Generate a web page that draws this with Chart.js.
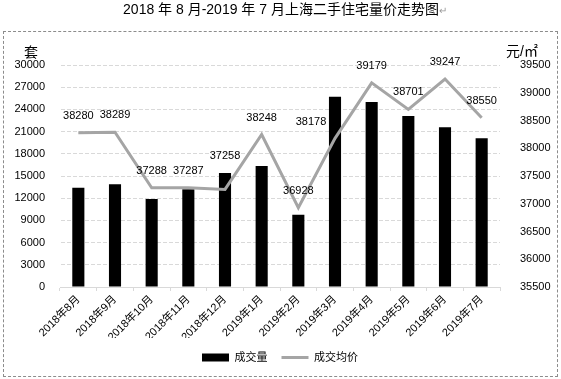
<!DOCTYPE html>
<html>
<head>
<meta charset="utf-8">
<script src="https://cdn.jsdelivr.net/npm/chart.js@4/dist/chart.umd.min.js"></script>
<style>
  html, body { margin: 0; padding: 0; background: #fff; }
  #wrap { position: relative; width: 561px; height: 379px; }
  #frame { position: absolute; left: 3px; top: 31px; width: 553px; height: 344px; border: 1px dashed #8c8c8c; pointer-events: none; }
  canvas { position: absolute; left: 0; top: 0; }
</style>
</head>
<body>
<div id="wrap">
  <div id="frame"></div>
  <canvas id="c" width="561" height="379"></canvas>
</div>
<script>
const titleText = "2018 年 8 月-2019 年 7 月上海二手住宅量价走势图";
const categories = ["2018年8月","2018年9月","2018年10月","2018年11月","2018年12月","2019年1月","2019年2月","2019年3月","2019年4月","2019年5月","2019年6月","2019年7月"];
const volume = [13400, 13900, 11900, 13200, 15400, 16350, 9750, 25700, 25000, 23100, 21600, 20100];
const avgPrice = [38280, 38289, 37288, 37287, 37258, 38248, 36928, 38178, 39179, 38701, 39247, 38550];
const volumeLabel = "成交量";
const priceLabel = "成交均价";
const leftUnit = "套";
const rightUnit = "元/㎡";

const CJK = '"Liberation Sans", "Noto Sans CJK SC", sans-serif';

const extras = {
  id: 'extras',
  afterDatasetsDraw(chart) {
    const ctx = chart.ctx;
    const meta = chart.getDatasetMeta(1);
    ctx.save();
    ctx.font = '11px ' + CJK;
    ctx.fillStyle = '#000';
    ctx.textAlign = 'center';
    ctx.textBaseline = 'middle';
    meta.data.forEach((pt, i) => {
      let dx = 0, dy = -17;
      if (i === 4) { dy = -33; }
      if (i === 7) { dx = -24; dy = -16; }
      ctx.fillText(String(avgPrice[i]), pt.x + dx, pt.y + dy);
    });
    ctx.restore();
  },
  afterDraw(chart) {
    const ctx = chart.ctx;
    ctx.save();
    ctx.fillStyle = '#000';
    ctx.textBaseline = 'middle';
    ctx.font = '14px ' + CJK;
    ctx.textAlign = 'center';
    ctx.fillText(titleText, 281, 10);
    const tw = ctx.measureText(titleText).width;
    ctx.fillStyle = '#9a9a9a';
    ctx.font = '10px ' + CJK;
    ctx.textAlign = 'left';
    ctx.fillText('↵', 281 + tw / 2, 11);
    ctx.fillStyle = '#000';
    ctx.font = '14px ' + CJK;
    ctx.textAlign = 'center';
    ctx.fillText(leftUnit, 31, 53);
    ctx.fillText(rightUnit, 522, 52);
    ctx.restore();
  }
};

const plain = v => String(v);

new Chart(document.getElementById('c'), {
  type: 'bar',
  data: {
    labels: categories,
    datasets: [
      {
        type: 'bar',
        label: volumeLabel,
        data: volume,
        backgroundColor: '#000',
        borderWidth: 0,
        barPercentage: 0.33,
        categoryPercentage: 1,
        yAxisID: 'y',
        order: 2
      },
      {
        type: 'line',
        label: priceLabel,
        data: avgPrice,
        borderColor: '#a5a5a5',
        backgroundColor: '#a5a5a5',
        borderWidth: 3,
        pointRadius: 0,
        tension: 0,
        yAxisID: 'y2',
        order: 1
      }
    ]
  },
  options: {
    responsive: false,
    animation: false,
    layout: { padding: { left: 3, right: 4, top: 65, bottom: 6 } },
    plugins: {
      legend: {
        position: 'bottom',
        labels: {
          usePointStyle: true,
          pointStyleWidth: 27,
          boxHeight: 8,
          padding: 14,
          color: '#000',
          font: { size: 11, family: CJK },
          generateLabels(chart) {
            return [
              { text: volumeLabel, fillStyle: '#000', strokeStyle: '#000', lineWidth: 0, pointStyle: 'rect', datasetIndex: 0, fontColor: '#000' },
              { text: priceLabel, fillStyle: '#a5a5a5', strokeStyle: '#a5a5a5', lineWidth: 3, pointStyle: 'line', datasetIndex: 1, fontColor: '#000' }
            ];
          }
        }
      },
      tooltip: { enabled: false },
      title: { display: false }
    },
    scales: {
      x: {
        offset: true,
        grid: { display: true, drawOnChartArea: false, drawTicks: true, tickLength: 4, color: '#d9d9d9', offset: true },
        border: { display: true, color: '#d9d9d9' },
        ticks: { maxRotation: 45, minRotation: 45, color: '#000', font: { size: 11, family: CJK }, padding: 2, autoSkip: false },
        afterFit(s) { s.height = 51; }
      },
      y: {
        position: 'left',
        min: 0, max: 30000,
        ticks: { stepSize: 3000, color: '#000', font: { size: 11, family: CJK }, padding: 15, callback: plain },
        grid: { color: '#d9d9d9', drawTicks: false },
        border: { display: true, color: 'rgba(0,0,0,0)', dash: [4, 2] },
        afterFit(s) { s.width = 57; }
      },
      y2: {
        position: 'right',
        min: 35500, max: 39500,
        ticks: { stepSize: 500, color: '#000', font: { size: 11, family: CJK }, padding: 12, callback: plain },
        grid: { display: false },
        border: { display: false },
        afterFit(s) { s.width = 57; }
      }
    }
  },
  plugins: [extras]
});
</script>
</body>
</html>
